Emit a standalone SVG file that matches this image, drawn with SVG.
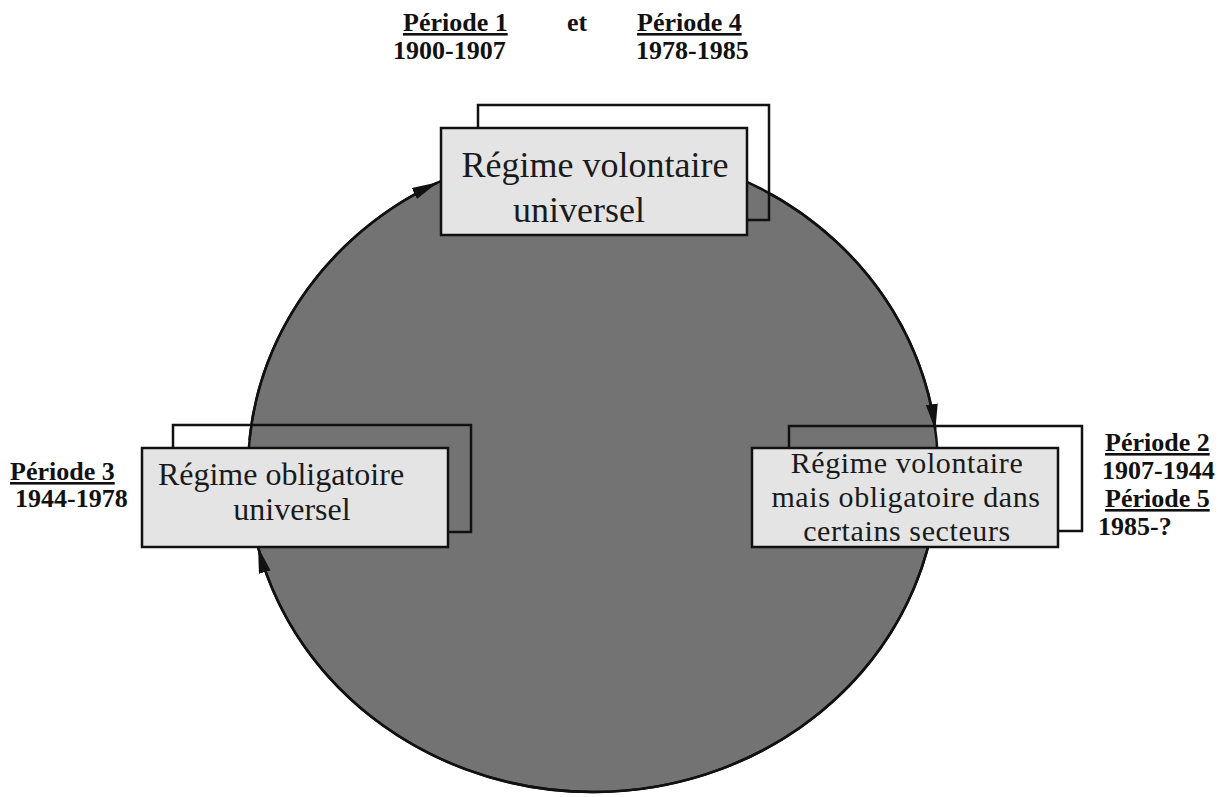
<svg xmlns="http://www.w3.org/2000/svg" width="1232" height="797" viewBox="0 0 1232 797">
  <style>
    .disc { fill: #737373; stroke: #111; stroke-width: 2.5; }
    .back { fill: none; stroke: #111; stroke-width: 2.5; }
    .front { fill: #e4e4e4; stroke: #111; stroke-width: 2.5; }
    .node-text { font-family: "Liberation Serif", "Times New Roman", serif; fill: #1a1a1a; text-anchor: middle; }
    .big { font-size: 36px; }
    .mid { font-size: 32px; }
    .small { font-size: 30px; letter-spacing: 0.6px; }
    .label { font-family: "Liberation Serif", "Times New Roman", serif; font-weight: bold; font-size: 26px; fill: #111; }
    .ul { text-decoration: underline; }
    .arc { fill: none; stroke: #111; stroke-width: 2.5; }
  </style>
  <defs>
    <marker id="head" viewBox="0 0 26 12" refX="25" refY="6" markerWidth="26" markerHeight="12" markerUnits="userSpaceOnUse" orient="auto">
      <path d="M0,0 L26,6 L0,12 Z" fill="#111"/>
    </marker>
  </defs>

  <rect width="1232" height="797" fill="#fff"/>

  <!-- the cycle disc -->
  <ellipse class="disc" cx="593" cy="470" rx="345" ry="322"/>

  <!-- clockwise transitions along the rim -->
  <g id="connectors">
    <path class="arc" d="M249.5,440 A345,322 0 0 1 437,182.8" marker-end="url(#head)"/>
    <path class="arc" d="M770,193.6 A345,322 0 0 1 935.2,429" marker-end="url(#head)"/>
    <path class="arc" d="M929.8,540 A345,322 0 0 1 258.3,548" marker-end="url(#head)"/>
  </g>

  <!-- Régime volontaire universel -->
  <g id="node-volontaire-universel">
    <rect class="back" x="478" y="105" width="291" height="115"/>
    <rect class="front" x="441" y="128" width="306" height="107"/>
    <text class="node-text big" x="595" y="177">Régime volontaire</text>
    <text class="node-text big" x="579" y="222">universel</text>
  </g>

  <!-- Régime obligatoire universel -->
  <g id="node-obligatoire-universel">
    <rect class="back" x="173" y="425" width="298" height="107"/>
    <rect class="front" x="142" y="448" width="306" height="99"/>
    <text class="node-text mid" x="281" y="485">Régime obligatoire</text>
    <text class="node-text mid" x="292" y="520">universel</text>
  </g>

  <!-- Régime volontaire mais obligatoire dans certains secteurs -->
  <g id="node-volontaire-sectoriel">
    <rect class="back" x="789" y="426" width="293" height="105"/>
    <rect class="front" x="752" y="448" width="306" height="99"/>
    <text class="node-text small" x="907" y="473">Régime volontaire</text>
    <text class="node-text small" x="906" y="507">mais obligatoire dans</text>
    <text class="node-text small" x="907" y="541">certains secteurs</text>
  </g>

  <!-- period labels -->
  <g id="labels-top">
    <text class="label ul" x="403" y="31">Période 1</text>
    <text class="label" x="567" y="31">et</text>
    <text class="label ul" x="637" y="31">Période 4</text>
    <text class="label" x="393" y="59">1900-1907</text>
    <text class="label" x="636" y="59">1978-1985</text>
  </g>
  <g id="labels-left">
    <text class="label ul" x="10" y="480">Période 3</text>
    <text class="label" x="15" y="507">1944-1978</text>
  </g>
  <g id="labels-right">
    <text class="label ul" x="1105" y="451">Période 2</text>
    <text class="label" x="1102" y="479">1907-1944</text>
    <text class="label ul" x="1105" y="507">Période 5</text>
    <text class="label" x="1098" y="535">1985-?</text>
  </g>
</svg>
